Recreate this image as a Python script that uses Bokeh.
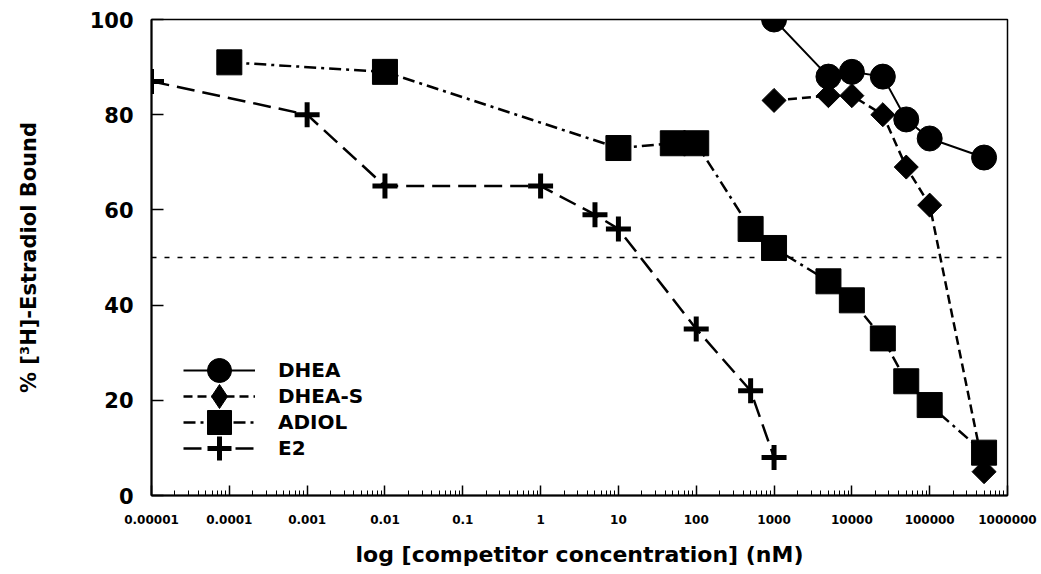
import numpy as np
from bokeh.plotting import figure
from bokeh.models import (Span, Legend, LegendItem, FixedTicker, CustomJSTickFormatter,
                          Range1d)
from bokeh.embed import file_html
from bokeh.resources import INLINE

# ---- data ----
dhea_x = [1000, 5000, 10000, 25000, 50000, 100000, 500000]
dhea_y = [100, 88, 89, 88, 79, 75, 71]

dheas_x = [1000, 5000, 10000, 25000, 50000, 100000, 500000]
dheas_y = [83, 84, 84, 80, 69, 61, 5]

adiol_x = [1e-4, 0.01, 10, 50, 100, 500, 1000, 5000, 10000, 25000, 50000, 100000, 500000]
adiol_y = [91, 89, 73, 74, 74, 56, 52, 45, 41, 33, 24, 19, 9]

e2_x = [1e-5, 1e-3, 0.01, 1, 5, 10, 100, 500, 1000]
e2_y = [87, 80, 65, 65, 59, 56, 35, 22, 8]

half_bound = 50

x_ticks = [1e-5, 1e-4, 1e-3, 1e-2, 1e-1, 1, 10, 100, 1000, 10000, 100000, 1000000]
x_tick_labels = ["0.00001", "0.0001", "0.001", "0.01", "0.1", "1", "10", "100",
                 "1000", "10000", "100000", "1000000"]
y_ticks = [0, 20, 40, 60, 80, 100]

series_labels = ["DHEA", "DHEA-S", "ADIOL", "E2"]
x_title = "log [competitor concentration] (nM)"
y_title = "% [\u00b3H]-Estradiol Bound"

FONT = "DejaVu Sans"

p = figure(width=1041, height=574, x_axis_type="log",
           x_range=Range1d(1e-5, 1e6), y_range=Range1d(0, 100),
           output_backend="svg", toolbar_location=None,
           min_border_left=151, min_border_right=34, min_border_top=19, min_border_bottom=79,
           background_fill_color="white", border_fill_color="white")

p.outline_line_color = "black"
p.outline_line_width = 1.5
p.xgrid.visible = False
p.ygrid.visible = False

# minor ticks for the log axis (2..9 within each decade)
minor = [m * t for t in x_ticks[:-1] for m in range(2, 10)]
p.xaxis.ticker = FixedTicker(ticks=x_ticks, minor_ticks=minor)
p.xaxis.formatter = CustomJSTickFormatter(args=dict(labels=x_tick_labels),
                                          code="return labels[index];")
p.yaxis.ticker = FixedTicker(ticks=y_ticks)

for ax in (p.xaxis[0], p.yaxis[0]):
    ax.axis_line_width = 2
    ax.axis_line_color = "black"
    ax.major_tick_out = 0
    ax.major_tick_line_width = 1.5
    ax.major_tick_line_color = "black"
    ax.major_label_text_font = FONT
    ax.major_label_text_font_style = "bold"
    ax.major_label_text_color = "black"
    ax.axis_label_text_font = FONT
    ax.axis_label_text_font_style = "bold"
    ax.axis_label_text_color = "black"

p.xaxis.major_tick_in = 10
p.xaxis.minor_tick_in = 5
p.xaxis.minor_tick_out = 0
p.xaxis.minor_tick_line_width = 1
p.xaxis.minor_tick_line_color = "black"
p.xaxis.major_label_text_font_size = "12px"
p.xaxis.major_label_standoff = 19
p.xaxis.axis_label = x_title
p.xaxis.axis_label_text_font_size = "22px"
p.xaxis.axis_label_standoff = 15

p.yaxis.major_tick_in = 12
p.yaxis.minor_tick_line_color = None
p.yaxis.major_label_text_font_size = "21px"
p.yaxis.major_label_standoff = 18
p.yaxis.axis_label = y_title
p.yaxis.axis_label_text_font_size = "21px"
p.yaxis.axis_label_standoff = 46

# 50 % reference line
p.add_layout(Span(location=half_bound, dimension="width", line_color="black",
                  line_width=1.5, line_dash="5 8"))

# lines
l_dhea = p.line(dhea_x, dhea_y, line_color="black", line_width=2)
l_dheas = p.line(dheas_x, dheas_y, line_color="black", line_width=2.5, line_dash="9 5")
l_adiol = p.line(adiol_x, adiol_y, line_color="black", line_width=2.5, line_dash="12 5 3 5")
l_e2 = p.line(e2_x, e2_y, line_color="black", line_width=2.5, line_dash="18 8")

# markers
s_dhea = p.scatter(dhea_x, dhea_y, marker="circle", size=25, color="black")
s_dheas = p.scatter(dheas_x, dheas_y, marker="square", angle=np.pi / 4, size=17, color="black")
s_dheas_leg = p.scatter(dheas_x, dheas_y, marker="diamond", size=24,
                        color="black", visible=False)
s_adiol = p.scatter(adiol_x, adiol_y, marker="square", size=25, color="black")
s_e2 = p.scatter(e2_x, e2_y, marker="cross", size=25, line_width=5, line_color="black")

# one legend per row so that rows can sit closer than the glyph box height
rows = [
    (series_labels[0], [l_dhea, s_dhea], 95),
    (series_labels[1], [l_dheas, s_dheas_leg], 69),
    (series_labels[2], [l_adiol, s_adiol], 43),
    (series_labels[3], [l_e2, s_e2], 17),
]
for lab, rends, yoff in rows:
    lg = Legend(items=[LegendItem(label=lab, renderers=rends)],
                location=(32, yoff), glyph_width=72, glyph_height=60, label_height=60,
                padding=0, margin=0, label_standoff=23,
                border_line_color=None, background_fill_alpha=0,
                label_text_font=FONT, label_text_font_style="bold",
                label_text_font_size="20px", label_text_color="black")
    p.add_layout(lg)

open("out.html", "w").write(file_html(p, INLINE))
